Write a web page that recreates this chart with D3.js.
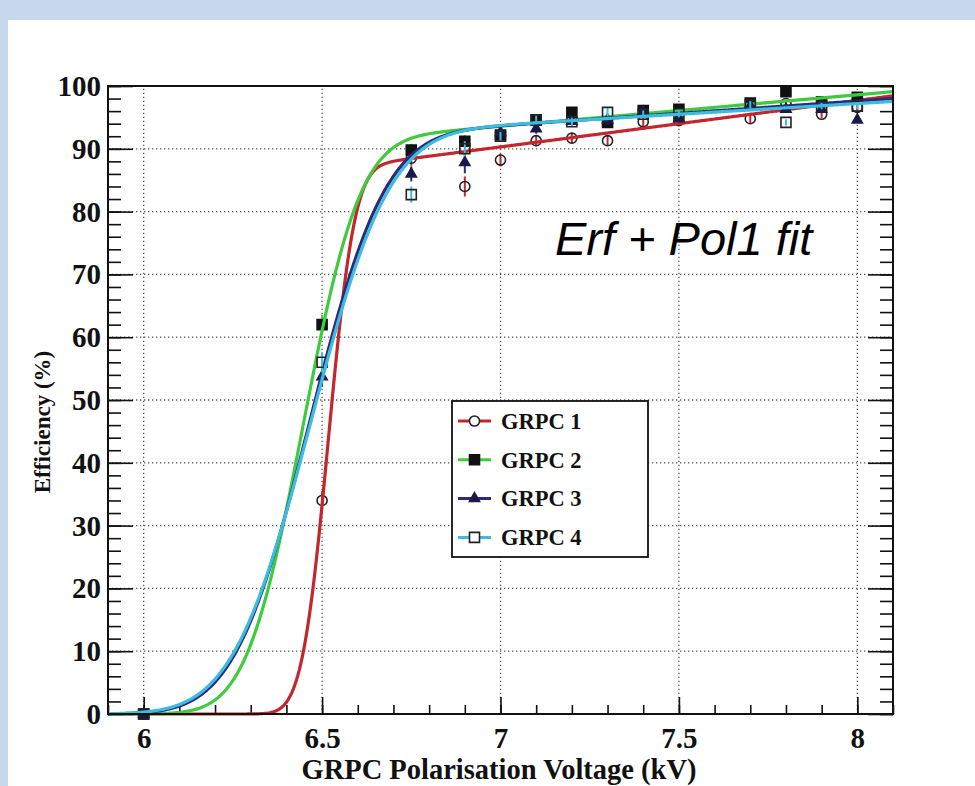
<!DOCTYPE html>
<html>
<head>
<meta charset="utf-8">
<script src="https://cdn.jsdelivr.net/npm/d3@7"></script>
<style>
  html, body { margin: 0; padding: 0; background: #ffffff; }
  svg { display: block; }
</style>
</head>
<body>
<svg id="chart" width="975" height="786"></svg>
<script>
// Measured efficiency per chamber vs. high voltage
const voltages = [6.0, 6.5, 6.75, 6.9, 7.0, 7.1, 7.2, 7.3, 7.4, 7.5, 7.7, 7.8, 7.9, 8.0];
const grpc1 = [0, 34, 88.5, 84, 88.2, 91.3, 91.7, 91.3, 94.3, 94.5, 94.8, 97.2, 95.5, 96.6];
const grpc2 = [0, 62, 89.8, 91.2, 92.2, 94.6, 95.8, 94.2, 96.1, 96.3, 97.3, 99.1, 97.5, 98.2];
const grpc3 = [0, 53.7, 86, 87.8, 92.6, 93.2, 94.4, 94.6, 95.9, 94.8, 96.8, 96.3, 96.3, 94.6];
const grpc4 = [0, 56, 82.7, 90, 92, 94.6, 94.3, 95.8, 95.5, 95.6, 97, 94.2, 96.8, 96.8];
const err1 = [0, 1.5, 1.2, 1.6, 1.0, 0.9, 0.8, 0.8, 0.7, 0.7, 0.7, 0.6, 0.6, 0.6];
const err2 = [0, 1.6, 1.0, 1.0, 0.9, 0.8, 0.7, 0.7, 0.6, 0.6, 0.6, 0.5, 0.5, 0.5];
const err3 = [0, 1.6, 1.2, 1.7, 0.9, 0.8, 0.7, 0.7, 0.6, 0.6, 0.6, 0.5, 0.5, 0.5];
const err4 = [0, 1.6, 1.3, 1.2, 0.9, 0.8, 0.7, 0.7, 0.6, 0.6, 0.6, 0.5, 0.5, 0.5];

const seriesNames = ["GRPC 1", "GRPC 2", "GRPC 3", "GRPC 4"];
const seriesColors = ["#c3262c", "#3ecb3e", "#2b2a7c", "#3cbde0"];

// Erf + Pol1 fit parameters: turn-on mean, width, plateau at 7 kV, plateau slope
const fitMean = [6.517, 6.445, 6.462, 6.466];
const fitSigma = [0.058, 0.125, 0.165, 0.172];
const fitPlateau = [90.3, 93.6, 93.7, 93.8];
const fitSlope = [7.4, 5.0, 3.9, 3.4];

const xTicks = [6, 6.5, 7, 7.5, 8];
const yTicks = [0, 10, 20, 30, 40, 50, 60, 70, 80, 90, 100];

const svg = d3.select("#chart");
const W = 975, H = 786;

// page background with the light blue strips
svg.append("rect").attr("width", W).attr("height", H).attr("fill", "#c7d8ee");
svg.append("rect").attr("x", 8).attr("y", 20).attr("width", W - 8).attr("height", H - 20).attr("fill", "#ffffff");

const frame = { left: 108, right: 893, top: 86, bottom: 714 };
const x = d3.scaleLinear().domain([5.9, 8.1]).range([frame.left, frame.right]);
const y = d3.scaleLinear().domain([0, 100]).range([frame.bottom, frame.top]);

const serif = "'Liberation Serif', 'Times New Roman', serif";

// grid
const grid = svg.append("g").attr("stroke", "#555").attr("stroke-width", 1.3).attr("stroke-dasharray", "1.3,2.7");
grid.selectAll("line.gx").data(xTicks).join("line")
  .attr("x1", d => x(d)).attr("x2", d => x(d))
  .attr("y1", frame.bottom).attr("y2", frame.top);
grid.selectAll("line.gy").data(yTicks.filter(d => d > 0 && d < 100)).join("line")
  .attr("x1", frame.left).attr("x2", frame.right)
  .attr("y1", d => y(d)).attr("y2", d => y(d));

// axes with inward ticks
const minorX = d3.range(59, 82).map(d => d / 10);
const minorY = d3.range(0, 101, 2);

const axisBottom = d3.axisBottom(x).tickValues(minorX).tickSize(-9).tickFormat("");
svg.append("g").attr("transform", `translate(0,${frame.bottom})`).call(axisBottom)
  .call(g => g.select(".domain").remove())
  .call(g => g.selectAll("line").attr("stroke", "#111").attr("stroke-width", 1.6));
const axisBottomMajor = d3.axisBottom(x).tickValues(xTicks).tickSize(-17).tickPadding(34).tickFormat(d3.format("~g"));
svg.append("g").attr("transform", `translate(0,${frame.bottom})`).call(axisBottomMajor)
  .call(g => g.select(".domain").remove())
  .call(g => g.selectAll("line").attr("stroke", "#111").attr("stroke-width", 1.6))
  .call(g => g.selectAll("text").attr("font-family", serif).attr("font-weight", "bold")
    .attr("font-size", 29).attr("fill", "#111").attr("dy", "0"));

const axisLeftMinor = d3.axisLeft(y).tickValues(minorY).tickSize(-13).tickFormat("");
svg.append("g").attr("transform", `translate(${frame.left},0)`).call(axisLeftMinor)
  .call(g => g.select(".domain").remove())
  .call(g => g.selectAll("line").attr("stroke", "#111").attr("stroke-width", 1.6));
const axisLeftMajor = d3.axisLeft(y).tickValues(yTicks).tickSize(-25).tickPadding(7).tickFormat(d3.format("d"));
svg.append("g").attr("transform", `translate(${frame.left},0)`).call(axisLeftMajor)
  .call(g => g.select(".domain").remove())
  .call(g => g.selectAll("line").attr("stroke", "#111").attr("stroke-width", 1.6))
  .call(g => g.selectAll("text").attr("font-family", serif).attr("font-weight", "bold")
    .attr("font-size", 29).attr("fill", "#111").attr("dy", "0.33em"));

const axisRightMinor = d3.axisRight(y).tickValues(minorY).tickSize(-13).tickFormat("");
svg.append("g").attr("transform", `translate(${frame.right},0)`).call(axisRightMinor)
  .call(g => g.select(".domain").remove())
  .call(g => g.selectAll("line").attr("stroke", "#111").attr("stroke-width", 1.6));
const axisRightMajor = d3.axisRight(y).tickValues(yTicks).tickSize(-25).tickFormat("");
svg.append("g").attr("transform", `translate(${frame.right},0)`).call(axisRightMajor)
  .call(g => g.select(".domain").remove())
  .call(g => g.selectAll("line").attr("stroke", "#111").attr("stroke-width", 1.6));

// erf approximation (Abramowitz & Stegun 7.1.26)
function erf(v) {
  const s = v < 0 ? -1 : 1;
  const a = Math.abs(v);
  const t = 1 / (1 + 0.3275911 * a);
  const poly = t * (0.254829592 + t * (-0.284496736 + t * (1.421413741 + t * (-1.453152027 + t * 1.061405429))));
  return s * (1 - poly * Math.exp(-a * a));
}
function fitValue(i, v) {
  const plateau = fitPlateau[i] + fitSlope[i] * (v - 7);
  return plateau * 0.5 * (1 + erf((v - fitMean[i]) / (fitSigma[i] * Math.SQRT2)));
}

const plot = svg.append("g");
const allValues = [grpc1, grpc2, grpc3, grpc4];
const allErrors = [err1, err2, err3, err4];
const symbols = [
  { type: d3.symbolCircle, size: 80, fill: "none", stroke: "#222" },
  { type: d3.symbolSquare, size: 100, fill: "#111", stroke: "#111" },
  { type: d3.symbolTriangle, size: 45, fill: "#1a1a4a", stroke: "#1a1a4a" },
  { type: d3.symbolSquare, size: 100, fill: "none", stroke: "#222" }
];
const sampleV = d3.range(5.9, 8.1001, 0.004);
const line = d3.line().x(d => x(d[0])).y(d => y(d[1]));

allValues.forEach((vals, i) => {
  const pts = voltages.map((v, k) => ({ v, e: vals[k], err: allErrors[i][k] }));
  const g = plot.append("g");
  g.selectAll("line.err").data(pts.filter(p => p.err > 0)).join("line")
    .attr("x1", p => x(p.v)).attr("x2", p => x(p.v))
    .attr("y1", p => y(p.e - p.err)).attr("y2", p => y(p.e + p.err))
    .attr("stroke", seriesColors[i]).attr("stroke-width", 2);
  g.selectAll("path.mk").data(pts).join("path")
    .attr("transform", p => `translate(${x(p.v)},${y(p.e)})`)
    .attr("d", d3.symbol().type(symbols[i].type).size(symbols[i].size))
    .attr("fill", symbols[i].fill === "none" ? "none" : symbols[i].fill)
    .attr("stroke", symbols[i].stroke).attr("stroke-width", 1.6);
  g.append("path")
    .datum(sampleV.map(v => [v, fitValue(i, v)]))
    .attr("d", line).attr("fill", "none")
    .attr("stroke", seriesColors[i]).attr("stroke-width", 3.2)
    .attr("stroke-linejoin", "round");
});

// frame
svg.append("rect").attr("x", frame.left).attr("y", frame.top)
  .attr("width", frame.right - frame.left).attr("height", frame.bottom - frame.top)
  .attr("fill", "none").attr("stroke", "#111").attr("stroke-width", 2);

// legend
const lg = svg.append("g");
lg.append("rect").attr("x", 452).attr("y", 401).attr("width", 196).attr("height", 156)
  .attr("fill", "#fff").attr("stroke", "#111").attr("stroke-width", 1.8);
seriesNames.forEach((name, i) => {
  const cy = 421 + i * 38.8;
  lg.append("line").attr("x1", 458).attr("x2", 491).attr("y1", cy).attr("y2", cy)
    .attr("stroke", seriesColors[i]).attr("stroke-width", 3);
  lg.append("path").attr("transform", `translate(474.5,${cy})`)
    .attr("d", d3.symbol().type(symbols[i].type).size(symbols[i].size))
    .attr("fill", symbols[i].fill === "none" ? "#fff" : symbols[i].fill)
    .attr("stroke", symbols[i].stroke).attr("stroke-width", 1.6);
  lg.append("text").attr("x", 501).attr("y", cy).attr("dy", "0.35em")
    .attr("font-family", serif).attr("font-weight", "bold").attr("font-size", 22.5)
    .attr("fill", "#111").text(name);
});

// annotation
svg.append("text").attr("x", 555).attr("y", 255)
  .attr("font-family", "'Liberation Sans', Arial, sans-serif").attr("font-style", "italic")
  .attr("font-size", 47).attr("fill", "#000").text("Erf + Pol1 fit");

// axis titles
svg.append("text").attr("x", 499).attr("y", 779).attr("text-anchor", "middle")
  .attr("font-family", serif).attr("font-weight", "bold").attr("font-size", 28.5)
  .attr("fill", "#111").text("GRPC Polarisation Voltage (kV)");
svg.append("text").attr("transform", "translate(50,422) rotate(-90)").attr("text-anchor", "middle")
  .attr("font-family", serif).attr("font-weight", "bold").attr("font-size", 23)
  .attr("fill", "#111").text("Efficiency (%)");
</script>
</body>
</html>
